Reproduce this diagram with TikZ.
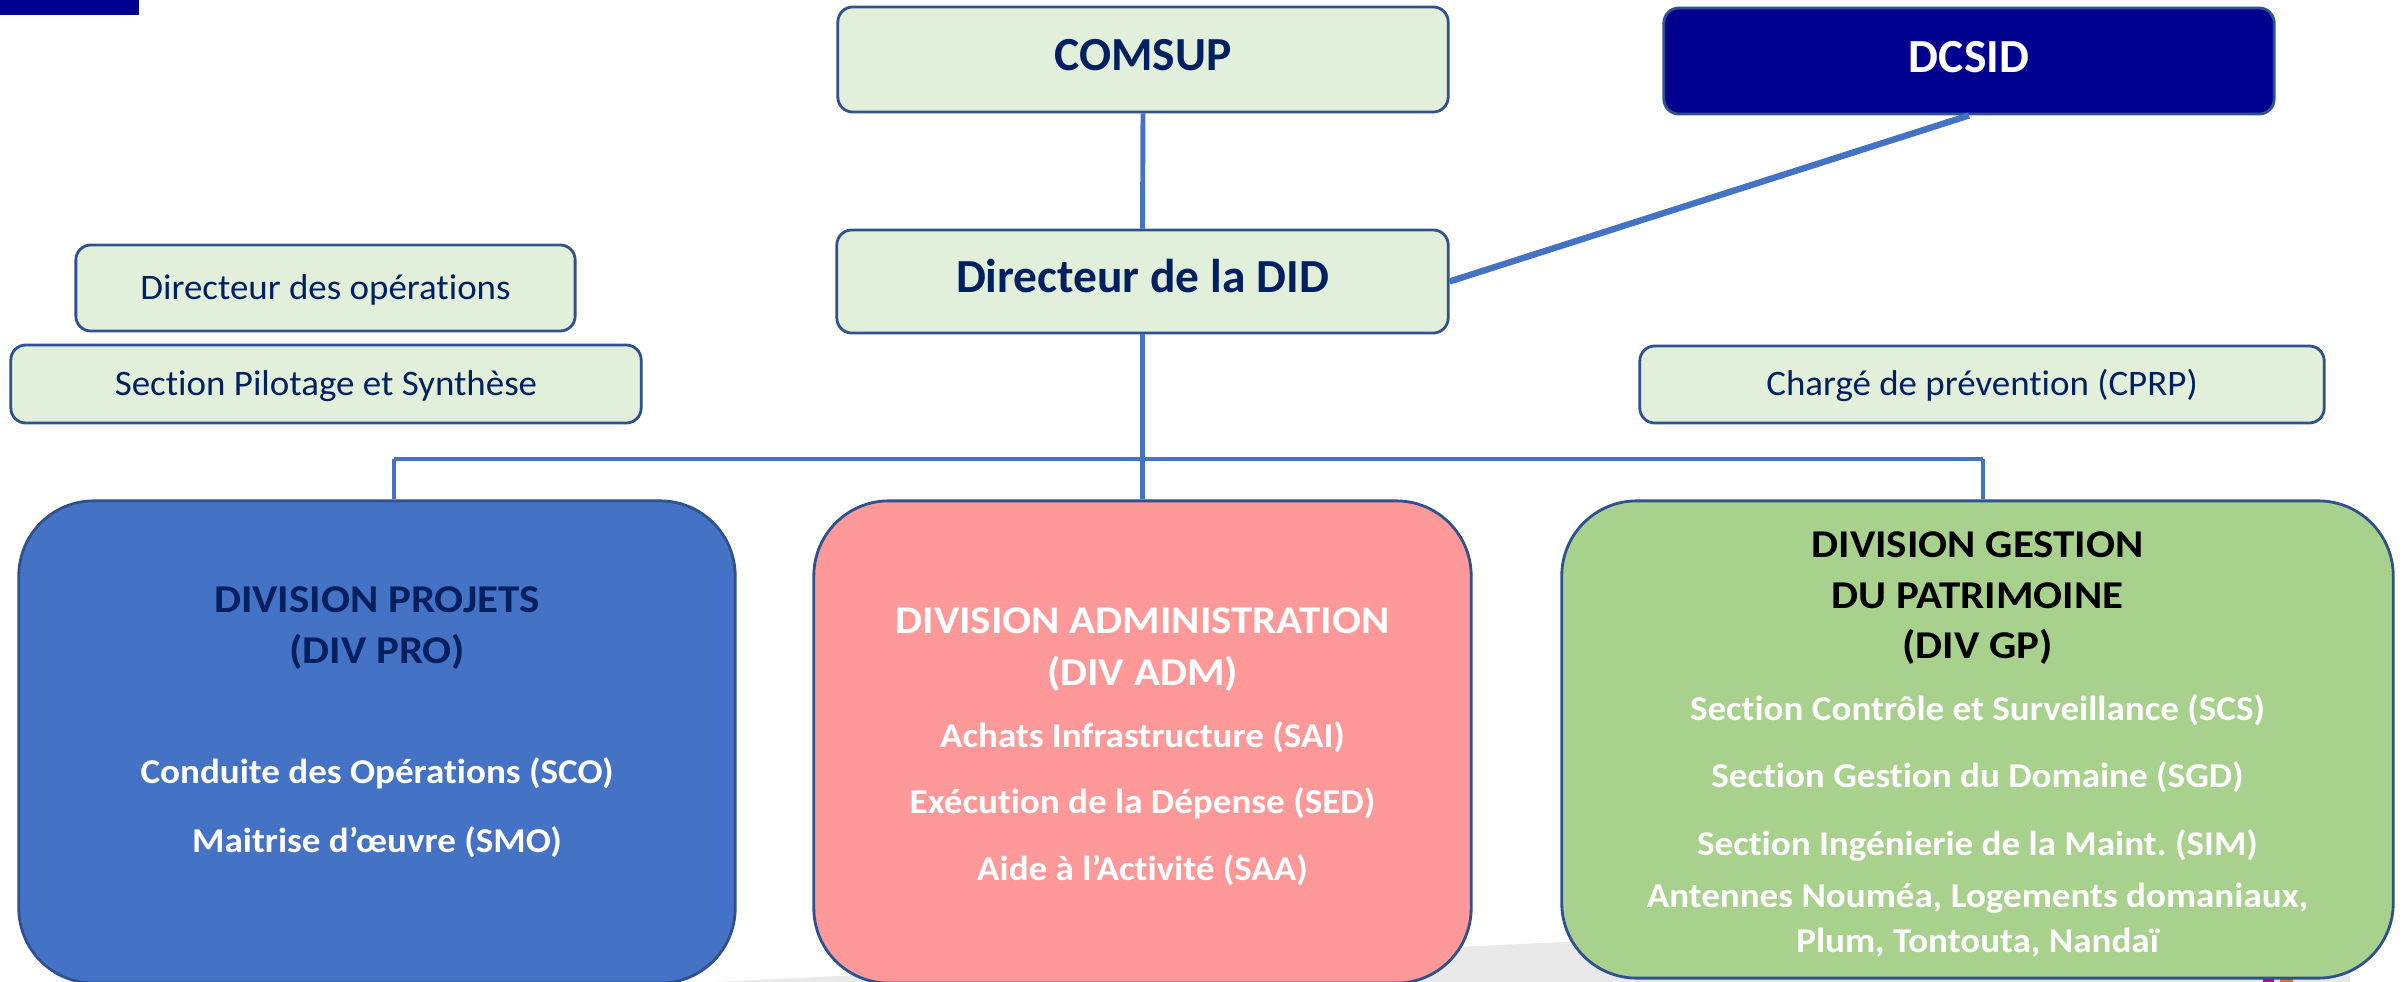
\documentclass[tikz,border=0pt]{standalone}
\usepackage{fontspec}
\setmainfont[Ligatures=NoCommon]{Carlito}
\newfontfamily\smallfont[Ligatures=NoCommon, FakeStretch=1.03]{Carlito}
\newfontfamily\titlefont[Ligatures=NoCommon, FakeStretch=1.09]{Carlito}
\newfontfamily\bodyfont[Ligatures=NoCommon, FakeStretch=1.065]{Carlito}
\frenchspacing
\definecolor{navy}{RGB}{0,32,96}
\definecolor{lightg}{RGB}{226,239,218}
\definecolor{bordc}{RGB}{47,82,143}
\definecolor{linkc}{RGB}{68,114,196}
\definecolor{deepblue}{RGB}{0,0,143}
\definecolor{probg}{RGB}{68,114,196}
\definecolor{admbg}{RGB}{255,153,153}
\definecolor{gpbg}{RGB}{169,209,142}
\definecolor{shadowg}{RGB}{233,233,233}
\definecolor{magbit}{RGB}{192,0,128}
\definecolor{orbit}{RGB}{224,112,32}
\tikzset{
  topbox/.style={draw=bordc, line width=0.8pt, rounded corners=1.5mm, fill=lightg, text=navy,
    font=\bfseries\fontsize{13.5}{16}\selectfont, inner sep=0pt, text height=0.632em, text depth=0pt},
  smallbox/.style={draw=bordc, line width=0.8pt, rounded corners=1.5mm, fill=lightg, text=navy,
    font=\smallfont\fontsize{10.2}{12}\selectfont, inner sep=0pt, text height=0.632em, text depth=0pt},
  divbox/.style={draw=bordc, line width=0.8pt, rounded corners=7.5mm, inner sep=0pt},
  divtitle/.style={font=\titlefont\bfseries\fontsize{11.2}{13}\selectfont, inner sep=0pt, anchor=base},
  divbody/.style={font=\bodyfont\bfseries\fontsize{9.9}{12}\selectfont, text=white, inner sep=0pt, anchor=base},
  link/.style={draw=linkc, line width=1.4pt},
  thicklink/.style={draw=linkc, line width=1.8pt}
}
\begin{document}
\begin{tikzpicture}[x=0.01cm,y=-0.01cm]
\useasboundingbox (0,0) rectangle (2408,982);
% decorative elements
\fill[deepblue] (0,0) rectangle (139,15);
\fill[shadowg] (690,983) -- (1563,942) -- (2350,905) -- (2350,983) -- cycle;
\fill[magbit] (2263,979) rectangle (2274,983);
\fill[orbit] (2280,979) rectangle (2293,983);

% top boxes
\node[topbox, minimum width=61mm, minimum height=10.5mm] (comsup) at (1143,59.5) {COMSUP};
\node[topbox, fill=deepblue, text=white, minimum width=61mm, minimum height=10.6mm] (dcsid) at (1969,61) {DCSID};
\node[topbox, minimum width=61.1mm, minimum height=10.3mm] (did) at (1142.5,281.5) {Directeur de la DID};
\node[smallbox, minimum width=49.9mm, minimum height=8.6mm] (dops) at (325.5,288) {Directeur des opérations};
\node[smallbox, minimum width=63mm, minimum height=7.8mm] (spil) at (326,384) {Section Pilotage et Synthèse};
\node[smallbox, minimum width=68.4mm, minimum height=7.7mm] (cprp) at (1982,384.5) {Chargé de prévention (CPRP)};

% division boxes
\node[divbox, fill=probg, minimum width=71.6mm, minimum height=48.2mm] (pro) at (377,742) {};
\node[divbox, fill=admbg, minimum width=65.7mm, minimum height=48.2mm] (adm) at (1142.5,742) {};
\node[divbox, fill=gpbg, minimum width=83.1mm, minimum height=47.7mm] (gp) at (1977.5,739.5) {};

% connectors
\draw[link] (comsup.south) -- (did.north);
\draw[thicklink] (dcsid.south) -- (did.east);
\draw[link] (did.south) -- (adm.north);
\coordinate (busL) at (394,459);
\coordinate (busR) at (1983,459);
\draw[link] (busL) -- (busR);
\draw[link] (busL) -- (busL |- pro.north);
\draw[link] (busR) -- (busR |- gp.north);

% DIV PRO texts
\node[divtitle, text=navy] (proT1) at (377,612) {DIVISION PROJETS};
\node[divtitle, text=navy] (proT2) at (377,663) {(DIV PRO)};
\node[divbody] (proB1) at (377,783) {Conduite des Opérations (SCO)};
\node[divbody] (proB2) at (377,852) {Maitrise d’œuvre (SMO)};

% DIV ADM texts
\node[divtitle, text=white] (admT1) at (1142.5,633) {DIVISION ADMINISTRATION};
\node[divtitle, text=white] (admT2) at (1142.5,685) {(DIV ADM)};
\node[divbody] (admB1) at (1142.5,747) {Achats Infrastructure (SAI)};
\node[divbody] (admB2) at (1142.5,813) {Exécution de la Dépense (SED)};
\node[divbody] (admB3) at (1142.5,880) {Aide à l’Activité (SAA)};

% DIV GP texts
\node[divtitle, text=black] (gpT1) at (1977.5,557) {DIVISION GESTION};
\node[divtitle, text=black] (gpT2) at (1977.5,608) {DU PATRIMOINE};
\node[divtitle, text=black] (gpT3) at (1977.5,658) {(DIV GP)};
\node[divbody] (gpB1) at (1977.5,720) {Section Contrôle et Surveillance (SCS)};
\node[divbody] (gpB2) at (1977.5,787) {Section Gestion du Domaine (SGD)};
\node[divbody] (gpB3) at (1977.5,855) {Section Ingénierie de la Maint.\ (SIM)};
\node[divbody] (gpB4) at (1977.5,907) {Antennes Nouméa, Logements domaniaux,};
\node[divbody] (gpB5) at (1977.5,952) {Plum, Tontouta, Nandaï};
\end{tikzpicture}
\end{document}
